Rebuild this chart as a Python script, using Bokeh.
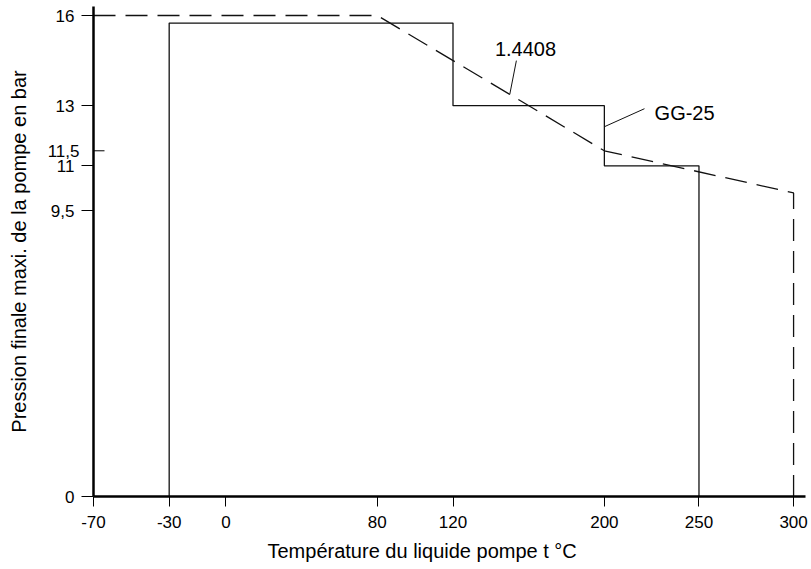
import numpy as np
from bokeh.plotting import figure
from bokeh.models import Range1d, FixedTicker, Label, LinearAxis, Title
from bokeh.embed import file_html
from bokeh.resources import INLINE

# ---------------- data ----------------
temp_ticks = [-70, -30, 0, 80, 120, 200, 250, 300]
pressure_ticks = [0, 9.5, 11, 11.5, 13, 16]
pressure_ticks_inside = [11.5]

# GG-25 (solid step line)
gg25_temp = [-30, -30, 120, 120, 200, 200, 250, 250]
gg25_pressure = [0, 15.75, 15.75, 13, 13, 11, 11, 0]

# 1.4408 (dashed line)
ss_temp = [-70, 80, 200, 300, 300]
ss_pressure = [16, 16, 11.5, 10.1, 0]

series_names = ["1.4408", "GG-25"]
x_title = "Température du liquide pompe t °C"
y_title = "Pression finale maxi. de la pompe en bar"

FONT = "Liberation Sans"


def fmt(v):
    return ("%g" % v).replace(".", ",")


p = figure(width=811, height=569, output_backend="svg", toolbar_location=None,
           x_range=Range1d(-70, 306.3), y_range=Range1d(0, 16.30),
           y_axis_location=None,
           min_border_left=93, min_border_right=6, min_border_top=6,
           min_border_bottom=73)
p.outline_line_color = None
p.xgrid.visible = False
p.ygrid.visible = False
p.background_fill_color = "white"
p.border_fill_color = "white"

# x axis
xa = p.xaxis[0]
xa.ticker = FixedTicker(ticks=temp_ticks)
xa.major_label_overrides = {t: str(t) for t in temp_ticks}
xa.axis_line_width = 2.5
xa.axis_line_color = "black"
xa.major_tick_out = 10
xa.major_tick_in = 0
xa.major_tick_line_color = "black"
xa.major_tick_line_width = 1
xa.minor_tick_line_color = None
xa.major_label_text_font = FONT
xa.major_label_text_font_size = "17px"
xa.major_label_text_color = "black"
xa.major_label_standoff = 9

# main y axis (ticks pointing outward)
outside = [t for t in pressure_ticks if t not in pressure_ticks_inside]
ya = LinearAxis(ticker=FixedTicker(ticks=outside),
                major_label_overrides={t: fmt(t) for t in outside})
ya.axis_line_width = 2.5
ya.axis_line_color = "black"
ya.major_tick_out = 12
ya.major_tick_in = 0
ya.major_tick_line_color = "black"
ya.major_tick_line_width = 1
ya.minor_tick_line_color = None
ya.major_label_text_font = FONT
ya.major_label_text_font_size = "17px"
ya.major_label_text_color = "black"
ya.major_label_standoff = 7
p.add_layout(ya, "left")

# second y axis carrying the label(s) of inward tick(s) and the axis title
ya2 = LinearAxis(ticker=FixedTicker(ticks=pressure_ticks_inside),
                 major_label_overrides={t: fmt(t) for t in pressure_ticks_inside})
ya2.axis_line_color = None
ya2.major_tick_line_color = None
ya2.minor_tick_line_color = None
ya2.major_tick_out = 0
ya2.major_tick_in = 0
ya2.major_label_text_font = FONT
ya2.major_label_text_font_size = "17px"
ya2.major_label_text_color = "black"
ya2.major_label_standoff = -32
ya2.axis_label = y_title
ya2.axis_label_text_font = FONT
ya2.axis_label_text_font_size = "20px"
ya2.axis_label_text_font_style = "normal"
ya2.axis_label_text_color = "black"
ya2.axis_label_standoff = 15
p.add_layout(ya2, "left")

# inward tick(s)
for t in pressure_ticks_inside:
    p.ray(x=[-70], y=[t], length=11, length_units="screen", angle=0,
          line_color="black", line_width=1)

# series
p.line(gg25_temp, gg25_pressure, line_color="#111111", line_width=1.3)
p.line(ss_temp, ss_pressure, line_color="#111111", line_width=1.3, line_dash="22 10")

# annotations with leader lines
ss_leader_x = [153.5, 150]
ss_leader_y = [14.5, float(np.interp(150, ss_temp[1:3], ss_pressure[1:3]))]
gg_leader_x = [221.2, 200]
gg_leader_y = [12.9, 12.3]
p.line(ss_leader_x, ss_leader_y, line_color="#111111", line_width=1)
p.line(gg_leader_x, gg_leader_y, line_color="#111111", line_width=1)
p.add_layout(Label(x=158.3, y=14.9, text=series_names[0], text_align="center",
                   text_baseline="middle", text_font=FONT, text_font_size="20px",
                   text_color="black"))
p.add_layout(Label(x=242.4, y=12.77, text=series_names[1], text_align="center",
                   text_baseline="middle", text_font=FONT, text_font_size="20px",
                   text_color="black"))

# x axis title (left of centre, as in the reference)
xt = Title(text=x_title, align="left", offset=174, text_font=FONT,
           text_font_size="20px", text_font_style="normal", text_color="black")
if "standoff" in Title.properties():
    xt.standoff = 14
p.add_layout(xt, "below")

open("out.html", "w").write(file_html(p, INLINE))
